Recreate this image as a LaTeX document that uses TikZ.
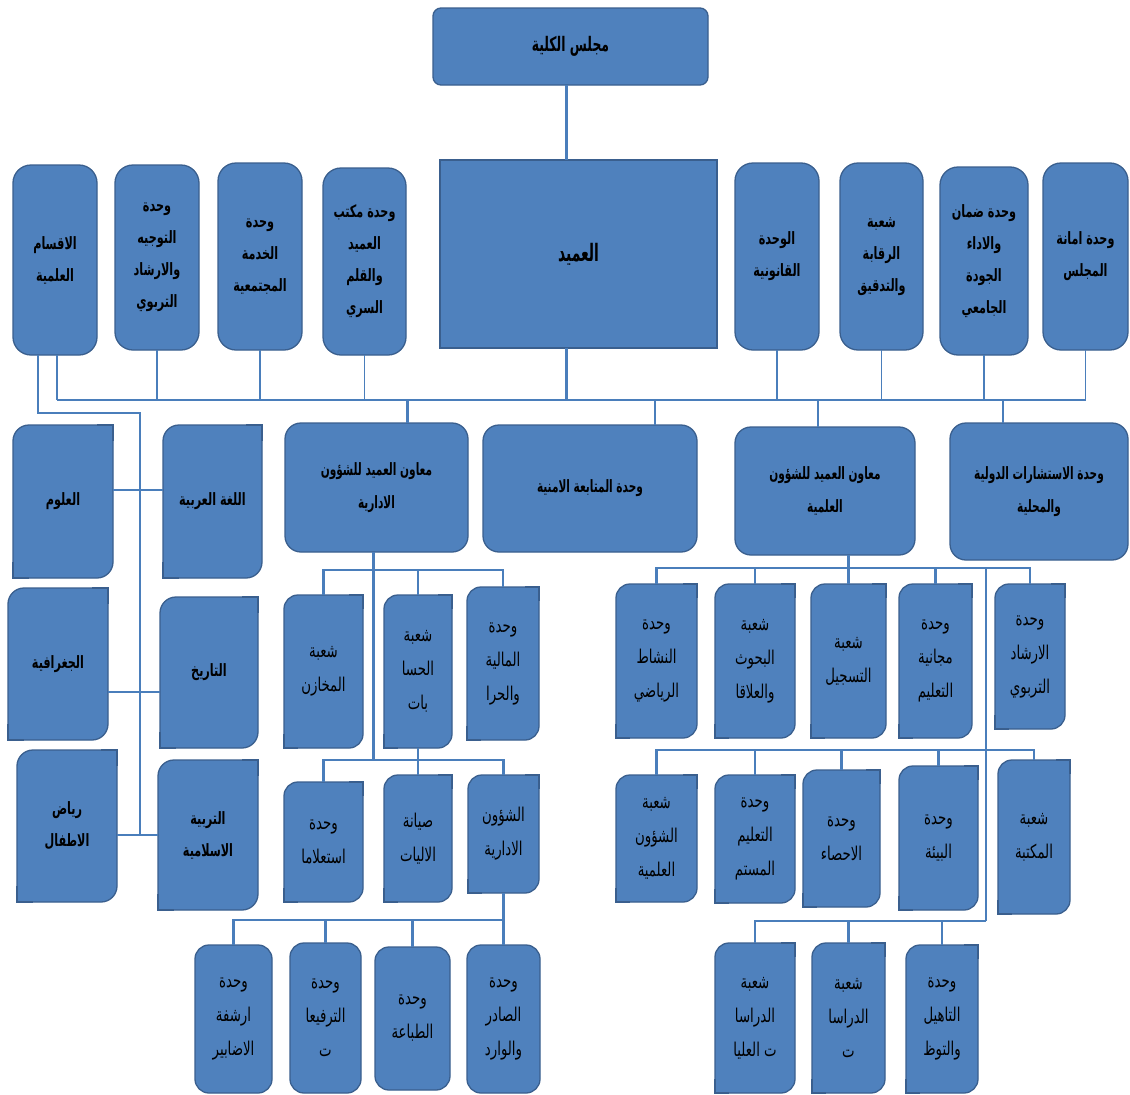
\documentclass[tikz,border=0pt]{standalone}
\usepackage{fontspec}
\newfontfamily\arf[Script=Arabic,FakeStretch=0.66]{DejaVu Sans}
\newfontfamily\arfn[Script=Arabic,FakeStretch=0.62]{DejaVu Sans}
\newfontfamily\arfr[Script=Arabic,FakeStretch=0.7]{DejaVu Sans}
\newfontfamily\arfd[Script=Arabic,FakeStretch=0.58]{DejaVu Sans}
\TeXXeTstate=1
\newcommand\AR[1]{\beginR#1\endR}
\definecolor{bfill}{HTML}{4F81BD}
\definecolor{bdraw}{HTML}{3A5F8E}
\definecolor{lnc}{HTML}{4A7EBB}
\tikzset{
  box/.style={draw=bdraw, fill=bfill, line width=1.3pt, inner sep=1pt, outer sep=0pt,
    align=center, text=black, rounded corners=16pt},
  fb/.style={font=\arf\bfseries\fontsize{17}{32}\selectfont},
  fbm/.style={font=\arfn\bfseries\fontsize{17}{33}\selectfont},
  fr/.style={font=\arfr\fontsize{19}{34}\selectfont},
  ln/.style={draw=lnc, line width=2.4pt},
  lnthin/.style={draw=lnc, line width=1.1pt},
}
% #1 style, #2 name, #3 x1, #4 y1, #5 x2, #6 y2, #7 text
\newcommand\BX[7][]{%
  \pgfmathsetmacro\BXw{#5-#3}\pgfmathsetmacro\BXh{#6-#4}%
  \pgfmathsetmacro\BXx{(#3+#5)/2}\pgfmathsetmacro\BXy{(#4+#6)/2}%
  \node[box,#1,minimum width=\BXw pt,minimum height=\BXh pt] (#2) at (\BXx,\BXy) {#7};}
% square off top-right and bottom-left corners
\newcommand\DG[2]{%
  \fill[bfill] ([xshift=-#2pt]#1.north east) rectangle ([yshift=-#2pt]#1.north east);
  \draw[bdraw,line width=1.3pt] ([xshift=-#2pt]#1.north east) -- (#1.north east) -- ([yshift=-#2pt]#1.north east);
  \fill[bfill] ([xshift=#2pt]#1.south west) rectangle ([yshift=#2pt]#1.south west);
  \draw[bdraw,line width=1.3pt] ([xshift=#2pt]#1.south west) -- (#1.south west) -- ([yshift=#2pt]#1.south west);}
\begin{document}
\begin{tikzpicture}[x=1pt,y=-1pt]
\useasboundingbox (0,0) rectangle (1130,1095);
\fill[white] (0,0) rectangle (1130,1095);

% bus coordinates
\coordinate (Y1) at (0,400);
\coordinate (YL) at (0,413);
\coordinate (XL) at (140,0);
\coordinate (Yd1) at (0,490);
\coordinate (Yd2) at (0,692);
\coordinate (Yd3) at (0,835);
\coordinate (A1) at (0,570);
\coordinate (A2) at (0,760);
\coordinate (A3) at (0,920);
\coordinate (S1) at (0,568);
\coordinate (S2) at (0,750);
\coordinate (S3) at (0,921);
\coordinate (SX) at (986,0);

% ---------- top ----------
\BX[rounded corners=8pt,font=\arfn\bfseries\fontsize{20}{22}\selectfont]{council}{433}{8}{708}{85}{\AR{مجلس الكلية}}
\BX[sharp corners,font=\arfd\bfseries\fontsize{24}{26}\selectfont]{dean}{440}{160}{717}{348}{\AR{العميد}}

\BX[fb,rounded corners=18pt]{t1}{13}{165}{97}{355}{\AR{الاقسام}\\\AR{العلمية}}
\BX[fb,rounded corners=18pt]{t2}{115}{165}{199}{350}{\AR{وحدة}\\\AR{التوجيه}\\\AR{والارشاد}\\\AR{التربوي}}
\BX[fb,rounded corners=18pt]{t3}{218}{163}{302}{350}{\AR{وحدة}\\\AR{الخدمة}\\\AR{المجتمعية}}
\BX[fb,rounded corners=18pt]{t4}{323}{168}{406}{355}{\AR{وحدة مكتب}\\\AR{العميد}\\\AR{والقلم}\\\AR{السري}}
\BX[fb,rounded corners=18pt]{t5}{735}{163}{819}{350}{\AR{الوحدة}\\\AR{القانونية}}
\BX[fb,rounded corners=18pt]{t6}{840}{163}{923}{350}{\AR{شعبة}\\\AR{الرقابة}\\\AR{والتدقيق}}
\BX[fb,rounded corners=18pt]{t7}{940}{167}{1028}{355}{\AR{وحدة ضمان}\\\AR{والاداء}\\\AR{الجودة}\\\AR{الجامعي}}
\BX[fb,rounded corners=18pt]{t8}{1043}{163}{1128}{350}{\AR{وحدة امانة}\\\AR{المجلس}}

% ---------- row 2 ----------
\BX[fb]{olum}{13}{425}{113}{578}{\AR{العلوم}}\DG{olum}{16}
\BX[fb]{arab}{163}{425}{262}{578}{\AR{اللغة العربية}}\DG{arab}{16}
\BX[fbm]{adm}{285}{423}{468}{552}{\AR{معاون العميد للشؤون}\\\AR{الادارية}}
\BX[fbm]{amn}{483}{425}{697}{552}{\AR{وحدة المتابعة الامنية}}
\BX[fbm]{sci}{735}{427}{915}{555}{\AR{معاون العميد للشؤون}\\\AR{العلمية}}
\BX[fbm]{cons}{950}{423}{1128}{560}{\AR{وحدة الاستشارات الدولية}\\\AR{والمحلية}}

\BX[fb]{geo}{8}{588}{108}{740}{\AR{الجغرافية}}\DG{geo}{16}
\BX[fb]{hist}{160}{597}{258}{748}{\AR{التاريخ}}\DG{hist}{16}
\BX[fb]{kind}{17}{750}{117}{902}{\AR{رياض}\\\AR{الاطفال}}\DG{kind}{16}
\BX[fb]{isl}{158}{760}{258}{910}{\AR{التربية}\\\AR{الاسلامية}}\DG{isl}{16}

% ---------- admin sub ----------
\BX[fr,rounded corners=14pt]{mkhz}{284}{595}{363}{748}{\AR{شعبة}\\\AR{المخازن}}\DG{mkhz}{14}
\BX[fr,rounded corners=14pt]{hsb}{384}{595}{452}{748}{\AR{شعبة}\\\AR{الحسا}\\\AR{بات}}\DG{hsb}{14}
\BX[fr,rounded corners=14pt]{mal}{467}{587}{539}{740}{\AR{وحدة}\\\AR{المالية}\\\AR{والحرا}}\DG{mal}{14}
\BX[fr,rounded corners=14pt]{istl}{284}{782}{363}{902}{\AR{وحدة}\\\AR{استعلاما}}\DG{istl}{14}
\BX[fr,rounded corners=14pt]{syn}{384}{775}{452}{902}{\AR{صيانة}\\\AR{الاليات}}\DG{syn}{14}
\BX[fr,rounded corners=14pt]{idar}{468}{775}{539}{893}{\AR{الشؤون}\\\AR{الادارية}}\DG{idar}{14}
\BX[fr,rounded corners=14pt]{arsh}{195}{945}{272}{1093}{\AR{وحدة}\\\AR{ارشفة}\\\AR{الاضابير}}
\BX[fr,rounded corners=14pt]{trf}{290}{943}{361}{1093}{\AR{وحدة}\\\AR{الترفيعا}\\\AR{ت}}
\BX[fr,rounded corners=14pt]{tba}{375}{947}{450}{1090}{\AR{وحدة}\\\AR{الطباعة}}
\BX[fr,rounded corners=14pt]{sadr}{467}{945}{540}{1093}{\AR{وحدة}\\\AR{الصادر}\\\AR{والوارد}}

% ---------- scientific sub ----------
\BX[fr,rounded corners=14pt]{nsh}{616}{584}{697}{738}{\AR{وحدة}\\\AR{النشاط}\\\AR{الرياضي}}\DG{nsh}{14}
\BX[fr,rounded corners=14pt]{bhth}{715}{584}{795}{738}{\AR{شعبة}\\\AR{البحوث}\\\AR{والعلاقا}}\DG{bhth}{14}
\BX[fr,rounded corners=14pt]{tsj}{811}{584}{886}{738}{\AR{شعبة}\\\AR{التسجيل}}\DG{tsj}{14}
\BX[fr,rounded corners=14pt]{mjn}{899}{584}{972}{738}{\AR{وحدة}\\\AR{مجانية}\\\AR{التعليم}}\DG{mjn}{14}
\BX[fr,rounded corners=14pt]{irs}{995}{584}{1065}{729}{\AR{وحدة}\\\AR{الارشاد}\\\AR{التربوي}}\DG{irs}{14}
\BX[fr,rounded corners=14pt]{shu}{616}{775}{697}{902}{\AR{شعبة}\\\AR{الشؤون}\\\AR{العلمية}}\DG{shu}{14}
\BX[fr,rounded corners=14pt]{tal}{715}{775}{795}{903}{\AR{وحدة}\\\AR{التعليم}\\\AR{المستم}}\DG{tal}{14}
\BX[fr,rounded corners=14pt]{ihs}{803}{770}{880}{907}{\AR{وحدة}\\\AR{الاحصاء}}\DG{ihs}{14}
\BX[fr,rounded corners=14pt]{bia}{899}{766}{978}{910}{\AR{وحدة}\\\AR{البيئة}}\DG{bia}{14}
\BX[fr,rounded corners=14pt]{mkt}{998}{760}{1070}{914}{\AR{شعبة}\\\AR{المكتبة}}\DG{mkt}{14}
\BX[fr,rounded corners=14pt]{dir}{715}{943}{795}{1093}{\AR{شعبة}\\\AR{الدراسا}\\\AR{ت العليا}}\DG{dir}{14}
\BX[fr,rounded corners=14pt]{dirs}{812}{943}{885}{1093}{\AR{شعبة}\\\AR{الدراسا}\\\AR{ت}}\DG{dirs}{14}
\BX[fr,rounded corners=14pt]{tah}{906}{945}{978}{1093}{\AR{وحدة}\\\AR{التاهيل}\\\AR{والتوظ}}\DG{tah}{14}

% ---------- connectors ----------
\draw[ln] ([xshift=-12pt]dean.north |- council.south) -- ([xshift=-12pt]dean.north);
\draw[ln] ([xshift=-12pt]dean.south) -- ([xshift=-12pt]dean.south |- Y1);
\draw[ln] ([xshift=2pt]t1.south |- Y1) -- (t8.south |- Y1);
\draw[lnthin] ([xshift=2pt]t1.south) -- ([xshift=2pt]t1.south |- Y1);
\foreach \n in {t2,t3,t4,t5,t6,t7,t8}
  \draw[lnthin] (\n.south) -- (\n.south |- Y1);
\draw[ln] ([xshift=-17pt]t1.south) |- (XL |- YL) -- (XL |- Yd3);
\draw[ln] (olum.east |- Yd1) -- (arab.west |- Yd1);
\draw[ln] (geo.east |- Yd2) -- (hist.west |- Yd2);
\draw[ln] (kind.east |- Yd3) -- (isl.west |- Yd3);

\draw[ln] ([xshift=31pt]adm.north |- Y1) -- ([xshift=31pt]adm.north);
\draw[ln] ([xshift=65pt]amn.north |- Y1) -- ([xshift=65pt]amn.north);
\draw[ln] ([xshift=-7pt]sci.north |- Y1) -- ([xshift=-7pt]sci.north);
\draw[ln] ([xshift=-36pt]cons.north |- Y1) -- ([xshift=-36pt]cons.north);

% admin
\draw[ln] ([xshift=-3pt]adm.south) -- ([xshift=-3pt]adm.south |- A2);
\draw[ln] (mkhz.north) |- (mal.north |- A1) -- (mal.north);
\draw[ln] (hsb.north) -- (hsb.north |- A1);
\draw[ln] (istl.north) |- (idar.north |- A2) -- (idar.north);
\draw[ln] (hsb.south) -- (syn.north);
\draw[ln] (idar.south) |- (arsh.north |- A3) -- (arsh.north);
\draw[ln] (trf.north) -- (trf.north |- A3);
\draw[ln] (tba.north) -- (tba.north |- A3);
\draw[ln] (sadr.north) -- (sadr.north |- A3);

% scientific
\draw[ln] (tsj.north |- sci.south) -- (tsj.north);
\draw[ln] (nsh.north) |- (irs.north |- S1) -- (irs.north);
\draw[ln] (bhth.north) -- (bhth.north |- S1);
\draw[ln] (mjn.north) -- (mjn.north |- S1);
\draw[ln] (SX |- S1) -- (SX |- S3);
\draw[ln] (shu.north) |- (mkt.north |- S2) -- (mkt.north);
\draw[ln] (tal.north) -- (tal.north |- S2);
\draw[ln] (ihs.north) -- (ihs.north |- S2);
\draw[ln] (bia.north) -- (bia.north |- S2);
\draw[ln] (dir.north) |- (SX |- S3);
\draw[ln] (dirs.north) -- (dirs.north |- S3);
\draw[ln] (tah.north) -- (tah.north |- S3);
\end{tikzpicture}
\end{document}
